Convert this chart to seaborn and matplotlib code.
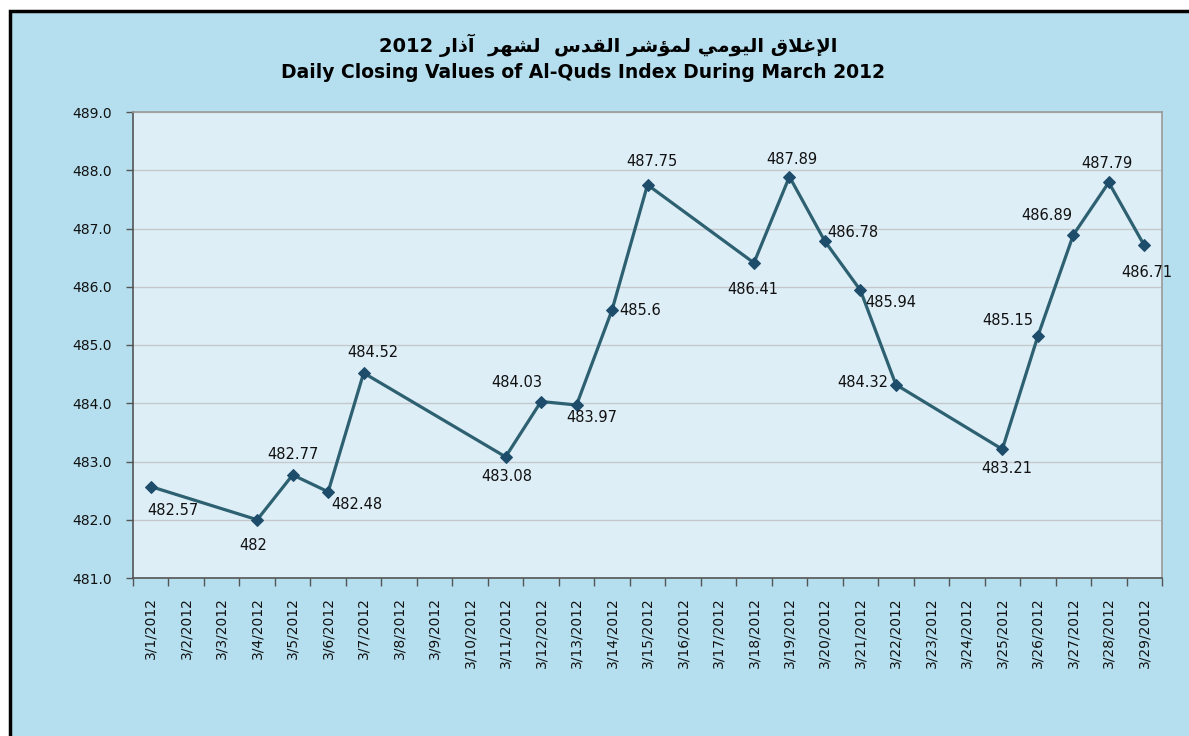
import matplotlib
matplotlib.use("Agg")
import matplotlib.pyplot as plt
import seaborn as sns
from matplotlib.patches import Rectangle

# data
all_days = [f"3/{d}/2012" for d in range(1, 30)]
trade_days = ["3/1/2012", "3/4/2012", "3/5/2012", "3/6/2012", "3/7/2012",
              "3/11/2012", "3/12/2012", "3/13/2012", "3/14/2012", "3/15/2012",
              "3/18/2012", "3/19/2012", "3/20/2012", "3/21/2012", "3/22/2012",
              "3/25/2012", "3/26/2012", "3/27/2012", "3/28/2012", "3/29/2012"]
closing = [482.57, 482, 482.77, 482.48, 484.52,
           483.08, 484.03, 483.97, 485.6, 487.75,
           486.41, 487.89, 486.78, 485.94, 484.32,
           483.21, 485.15, 486.89, 487.79, 486.71]
value_labels = ["482.57", "482", "482.77", "482.48", "484.52",
                "483.08", "484.03", "483.97", "485.6", "487.75",
                "486.41", "487.89", "486.78", "485.94", "484.32",
                "483.21", "485.15", "486.89", "487.79", "486.71"]
y_ticks = [481, 482, 483, 484, 485, 486, 487, 488, 489]

title_ar = "الإغلاق اليومي لمؤشر القدس  لشهر  آذار 2012"
title_en = "Daily Closing Values of Al-Quds Index During March 2012"

# label offsets in pixels (dx, dy up)
label_off = [(22, -24), (-4, -26), (0, 20), (29, -13), (9, 20),
             (1, -20), (-24, 19), (15, -13), (28, 0), (4, 23),
             (-1, -27), (2, 17), (28, 9), (30, -12), (-33, 2),
             (4, -19), (-30, 16), (-26, 19), (-2, 19), (3, -27)]


# minimal arabic shaping (matplotlib does no shaping / bidi)
FORMS = {
    "\u0622": ("\uFE81", "\uFE82", None, None),
    "\u0624": ("\uFE85", "\uFE86", None, None),
    "\u0625": ("\uFE87", "\uFE88", None, None),
    "\u0627": ("\uFE8D", "\uFE8E", None, None),
    "\u062F": ("\uFEA9", "\uFEAA", None, None),
    "\u0630": ("\uFEAB", "\uFEAC", None, None),
    "\u0631": ("\uFEAD", "\uFEAE", None, None),
    "\u0633": ("\uFEB1", "\uFEB2", "\uFEB3", "\uFEB4"),
    "\u0634": ("\uFEB5", "\uFEB6", "\uFEB7", "\uFEB8"),
    "\u063A": ("\uFECD", "\uFECE", "\uFECF", "\uFED0"),
    "\u0642": ("\uFED5", "\uFED6", "\uFED7", "\uFED8"),
    "\u0644": ("\uFEDD", "\uFEDE", "\uFEDF", "\uFEE0"),
    "\u0645": ("\uFEE1", "\uFEE2", "\uFEE3", "\uFEE4"),
    "\u0647": ("\uFEE9", "\uFEEA", "\uFEEB", "\uFEEC"),
    "\u0648": ("\uFEED", "\uFEEE", None, None),
    "\u064A": ("\uFEF1", "\uFEF2", "\uFEF3", "\uFEF4"),
    "LA\u0622": ("\uFEF5", "\uFEF6", None, None),
    "LA\u0625": ("\uFEF9", "\uFEFA", None, None),
    "LA\u0627": ("\uFEFB", "\uFEFC", None, None),
}


def shape(text):
    chars = []
    i = 0
    while i < len(text):
        c = text[i]
        if c == "\u0644" and i + 1 < len(text) and "LA" + text[i + 1] in FORMS:
            chars.append("LA" + text[i + 1])
            i += 2
        else:
            chars.append(c)
            i += 1
    out = []
    for k, c in enumerate(chars):
        if c not in FORMS:
            out.append(c)
            continue
        iso, fin, ini, med = FORMS[c]
        prev = chars[k - 1] if k > 0 else None
        nxt = chars[k + 1] if k + 1 < len(chars) else None
        join_prev = prev in FORMS and FORMS[prev][2] is not None
        join_next = ini is not None and nxt in FORMS
        if join_prev and join_next:
            out.append(med)
        elif join_prev:
            out.append(fin)
        elif join_next:
            out.append(ini)
        else:
            out.append(iso)
    # visual order: reverse, keep digit runs LTR
    vis = "".join(out)[::-1]
    res, run = "", ""
    for ch in vis:
        if ch.isdigit():
            run += ch
        else:
            res += run[::-1] + ch
            run = ""
    return res + run[::-1]


sns.set_theme(style="whitegrid")
plt.rcParams["font.family"] = ["DejaVu Sans"]

bg_outer = "#b5dfef"
bg_plot = "#ddeef7"
line_col = "#2d6070"
mark_col = "#1e4c6b"

fig = plt.figure(figsize=(11.89, 7.36), dpi=100)
fig.patch.set_facecolor("white")
frame = Rectangle((10 / 1189, -0.05), 1.1, 1.05 - 11 / 736,
                  transform=fig.transFigure, facecolor=bg_outer,
                  edgecolor="black", linewidth=2.5, zorder=-5)
fig.patches.append(frame)

ax = fig.add_axes([133 / 1189, 1 - 578 / 736, 1029 / 1189, 466 / 736])
ax.set_zorder(2)
ax.set_facecolor(bg_plot)

xpos = [all_days.index(d) for d in trade_days]
sns.lineplot(x=xpos, y=closing, ax=ax, color=line_col, linewidth=2.3,
             marker="D", markersize=6, markerfacecolor=mark_col,
             markeredgecolor=mark_col, zorder=3)

for x, y, lab, (dx, dy) in zip(xpos, closing, value_labels, label_off):
    ax.annotate(lab, (x, y), xytext=(dx, dy), textcoords="offset pixels",
                ha="center", va="center", fontsize=10.5, color="#111111",
                zorder=4)

ax.set_xlim(-0.5, len(all_days) - 0.5)
ax.set_ylim(y_ticks[0], y_ticks[-1])
ax.set_yticks(y_ticks)
ax.set_yticklabels([f"{v:.1f}" for v in y_ticks], fontsize=10, color="#111111")
ax.set_xticks([i - 0.5 for i in range(len(all_days) + 1)])
ax.set_xticklabels([])
ax.set_xticks(range(len(all_days)), minor=True)
ax.set_xticklabels(all_days, minor=True, rotation=90, fontsize=10,
                   color="#111111")
ax.tick_params(axis="x", which="major", length=6, width=1, color="#555555",
               direction="out", bottom=True)
ax.tick_params(axis="x", which="minor", length=0, pad=14, bottom=True)
ax.tick_params(axis="y", length=5, width=1, color="#555555", direction="out",
               left=True, pad=10)

ax.grid(axis="y", color="#c5c9cc", linewidth=1)
ax.grid(axis="x", visible=False)
ax.set_axisbelow(True)
for side in ["left", "bottom"]:
    ax.spines[side].set_color("#555555")
    ax.spines[side].set_linewidth(1.2)
for side in ["top", "right"]:
    ax.spines[side].set_color("#9a9a9a")
    ax.spines[side].set_linewidth(1.2)

fig.text(608 / 1189, 1 - 45 / 736, shape(title_ar), ha="center", va="center",
         fontsize=14, fontweight="bold", color="black")
fig.text(583 / 1189, 1 - 72 / 736, title_en, ha="center", va="center",
         fontsize=13.5, fontweight="bold", color="black")

fig.savefig("out.png", dpi=100, facecolor=fig.get_facecolor())
